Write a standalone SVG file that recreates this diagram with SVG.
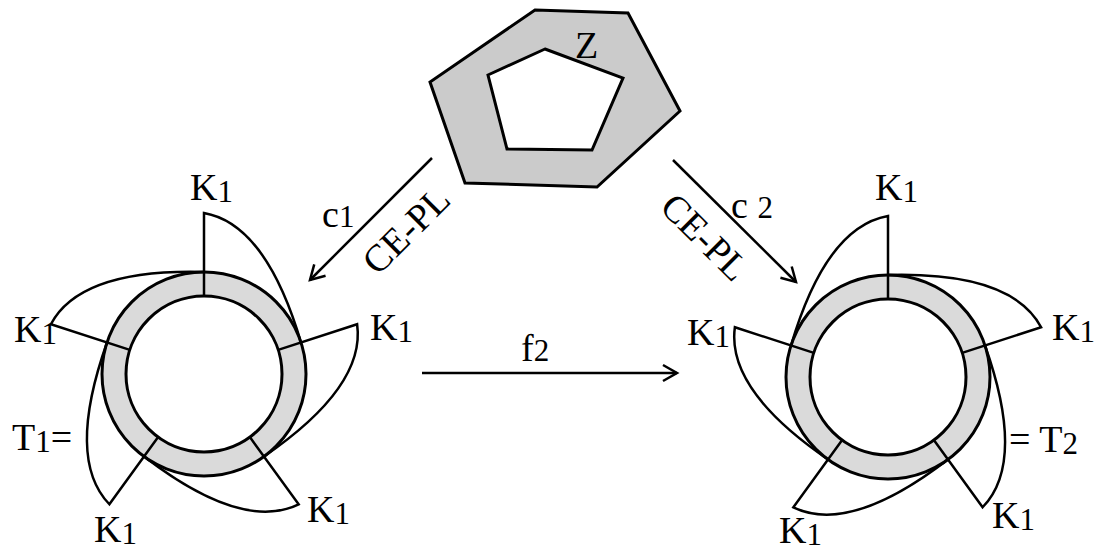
<svg xmlns="http://www.w3.org/2000/svg" width="1096" height="553" viewBox="0 0 1096 553">
<style>
.lbl{font-family:"Liberation Serif","Times New Roman",serif;font-size:38px;fill:#000}
.sub{font-size:31px}
.ring{fill:#dadada;stroke:#000;stroke-width:3}
.hole{fill:#fff;stroke:#000;stroke-width:3}
.fin{fill:none;stroke:#000;stroke-width:2.5;stroke-linejoin:miter}
.conn{fill:none;stroke:#000;stroke-width:2.5}
</style>
<defs>
<path id="fin" class="fin" d="M0,-78 V-161 Q62,-150 97,-31.5"/>
<marker id="arr" markerUnits="userSpaceOnUse" markerWidth="20" markerHeight="20" viewBox="-16 -10 20 20" refX="0" refY="0" orient="auto">
<path d="M-14,-8 L0,0 L-14,8" fill="none" stroke="#000" stroke-width="2.5"/>
</marker>
</defs>
<rect width="1096" height="553" fill="#fff"/>

<g id="node-Z">
<polygon points="535,10 628,13 680,111 597,187 465,183 430,82" fill="#cbcbcb" stroke="#000" stroke-width="3"/>
<polygon points="545,49 623,78 592,150 507,149 488,75" fill="#fff" stroke="#000" stroke-width="3"/>
<text class="lbl" x="575" y="58">Z</text>
</g>

<g id="node-T1">
<g transform="translate(204,374)">
<circle class="ring" r="102"/>
<circle class="hole" r="78"/>
<use href="#fin"/>
<use href="#fin" transform="rotate(72)"/>
<use href="#fin" transform="rotate(144)"/>
<use href="#fin" transform="rotate(216)"/>
<use href="#fin" transform="rotate(288)"/>
</g>
<text class="lbl" x="190" y="200">K<tspan class="sub" dy="2">1</tspan></text>
<text class="lbl" x="370" y="340">K<tspan class="sub" dy="2">1</tspan></text>
<text class="lbl" x="14" y="342">K<tspan class="sub" dy="2">1</tspan></text>
<text class="lbl" x="94" y="542">K<tspan class="sub" dy="2">1</tspan></text>
<text class="lbl" x="307" y="522">K<tspan class="sub" dy="2">1</tspan></text>
<text class="lbl" x="12" y="450">T<tspan class="sub" dy="2">1</tspan><tspan dy="-2">=</tspan></text>
</g>

<g id="node-T2">
<g transform="translate(888,377) scale(-1,1)">
<circle class="ring" r="102"/>
<circle class="hole" r="78"/>
<use href="#fin"/>
<use href="#fin" transform="rotate(72)"/>
<use href="#fin" transform="rotate(144)"/>
<use href="#fin" transform="rotate(216)"/>
<use href="#fin" transform="rotate(288)"/>
</g>
<text class="lbl" x="875" y="200">K<tspan class="sub" dy="2">1</tspan></text>
<text class="lbl" x="1052" y="340">K<tspan class="sub" dy="2">1</tspan></text>
<text class="lbl" x="687" y="345">K<tspan class="sub" dy="2">1</tspan></text>
<text class="lbl" x="779" y="543">K<tspan class="sub" dy="2">1</tspan></text>
<text class="lbl" x="992" y="528">K<tspan class="sub" dy="2">1</tspan></text>
<text class="lbl" x="1009" y="452">= T<tspan class="sub" dy="2">2</tspan></text>
</g>

<g id="connectors">
<line class="conn" x1="432" y1="158" x2="310" y2="280" marker-end="url(#arr)"/>
<line class="conn" x1="673" y1="160" x2="796" y2="282" marker-end="url(#arr)"/>
<line class="conn" x1="422" y1="373" x2="677" y2="373" marker-end="url(#arr)"/>
<text class="lbl" x="322" y="227">c<tspan class="sub">1</tspan></text>
<text class="lbl" x="731" y="218">c <tspan class="sub">2</tspan></text>
<text class="lbl" x="521" y="361">f<tspan class="sub">2</tspan></text>
<text class="lbl" text-anchor="middle" transform="translate(406,230) rotate(-45)" x="0" y="13">CE-PL</text>
<text class="lbl" text-anchor="middle" transform="translate(705,237) rotate(45)" x="0" y="13">CE-PL</text>
</g>
</svg>
